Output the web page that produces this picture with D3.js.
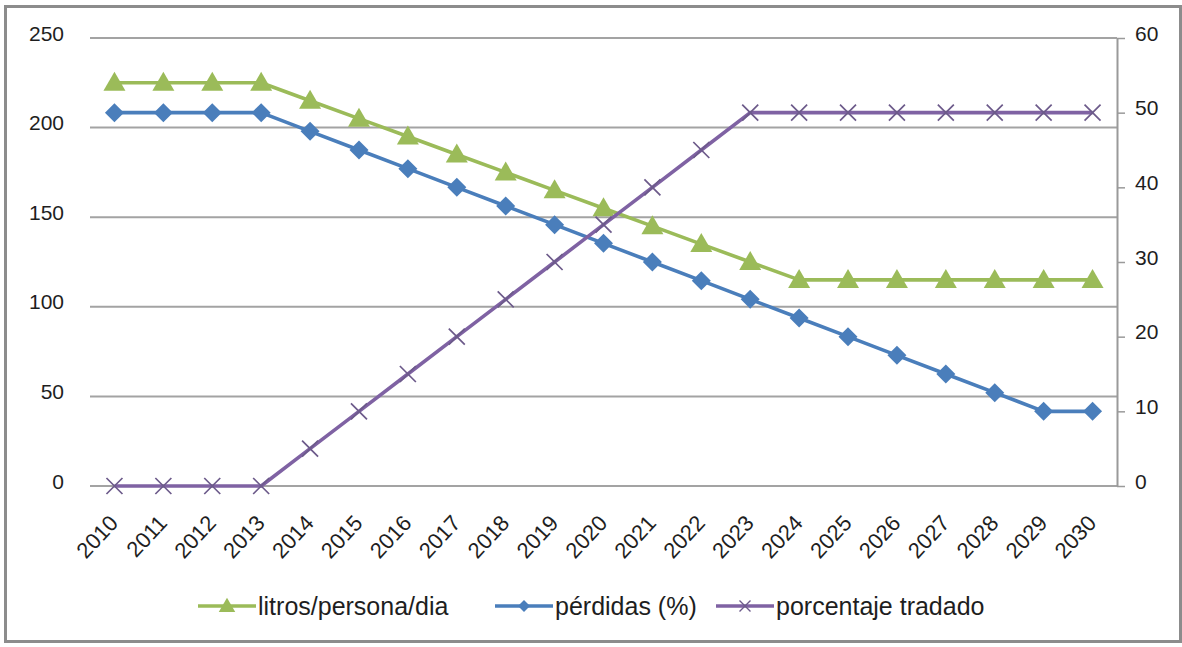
<!DOCTYPE html>
<html>
<head>
<meta charset="utf-8">
<script src="https://cdn.jsdelivr.net/npm/d3@7"></script>
<style>
  html, body { margin: 0; padding: 0; background: #fff; }
  svg { display: block; }
  text { font-family: "Liberation Sans", Arial, sans-serif; fill: #1e1e1e; }
</style>
</head>
<body>
<svg id="chart" width="1182" height="647"></svg>
<script>
// Years on the category axis
const years = ["2010","2011","2012","2013","2014","2015","2016","2017","2018","2019","2020",
               "2021","2022","2023","2024","2025","2026","2027","2028","2029","2030"];

// Litres per person per day (left axis)
const litros = [225,225,225,225,215,205,195,185,175,165,155,145,135,125,115,115,115,115,115,115,115];

// Network losses, percent (right axis)
const perdidas = [50,50,50,50,47.5,45,42.5,40,37.5,35,32.5,30,27.5,25,22.5,20,17.5,15,12.5,10,10];

// Share of treated water, percent (right axis)
const tratado = [0,0,0,0,5,10,15,20,25,30,35,40,45,50,50,50,50,50,50,50,50];

const leftTicks = [0, 50, 100, 150, 200, 250];
const rightTicks = [0, 10, 20, 30, 40, 50, 60];

const seriesNames = ["litros/persona/dia", "pérdidas (%)", "porcentaje tradado"];
const colors = { litros: "#9bbb59", perdidas: "#4a7ebb", tratado: "#7f62a3" };

const svg = d3.select("#chart");

// Outer chart frame
svg.append("rect")
  .attr("x", 5.5).attr("y", 6.5)
  .attr("width", 1175).attr("height", 635)
  .attr("fill", "#fff")
  .attr("stroke", "#8c8c8c")
  .attr("stroke-width", 3);

const plot = { left: 90, right: 1117, top: 38, bottom: 486 };

const x = d3.scaleBand().domain(years).range([plot.left, plot.right]);
const xc = d => x(d) + x.bandwidth() / 2;
const yL = d3.scaleLinear().domain([0, 250]).range([plot.bottom, plot.top]);
const yR = d3.scaleLinear().domain([0, 60]).range([plot.bottom, plot.top]);

// Horizontal gridlines following the left axis
svg.append("g").selectAll("line")
  .data(leftTicks)
  .join("line")
  .attr("x1", plot.left).attr("x2", plot.right)
  .attr("y1", d => yL(d)).attr("y2", d => yL(d))
  .attr("stroke", "#a3a3a3")
  .attr("stroke-width", 2);

// Left axis labels (no axis line)
const leftAxis = d3.axisLeft(yL).tickValues(leftTicks).tickSize(0).tickPadding(26);
const gL = svg.append("g").attr("transform", `translate(${plot.left},0)`).call(leftAxis);
gL.select(".domain").remove();
gL.selectAll("text").style("font-size", "21px").attr("dy", "0.1em")
  .style("font-family", "'Liberation Sans', Arial, sans-serif").attr("fill", "#1e1e1e");

// Right axis with outward ticks
const rightAxis = d3.axisRight(yR).tickValues(rightTicks).tickSizeInner(8).tickSizeOuter(0).tickPadding(10);
const gR = svg.append("g").attr("transform", `translate(${plot.right},0)`).call(rightAxis);
gR.select(".domain").attr("stroke", "#9a9a9a").attr("stroke-width", 2);
gR.selectAll(".tick line").attr("stroke", "#9a9a9a").attr("stroke-width", 1.5);
gR.selectAll("text").style("font-size", "21px").attr("dy", "0.1em")
  .style("font-family", "'Liberation Sans', Arial, sans-serif").attr("fill", "#1e1e1e");

// Category axis: rotated year labels
const bottomAxis = d3.axisBottom(x).tickSize(0).tickPadding(0);
const gB = svg.append("g").attr("transform", `translate(0,${plot.bottom})`).call(bottomAxis);
gB.select(".domain").remove();
gB.selectAll("text")
  .style("font-size", "22px")
  .style("font-family", "'Liberation Sans', Arial, sans-serif")
  .attr("fill", "#1e1e1e")
  .attr("text-anchor", "end")
  .attr("dy", 0).attr("y", 0)
  .attr("transform", "translate(5,38) rotate(-47)");

// Marker shapes
const triPath = s => `M0,${-s * 0.55}L${s * 0.55},${s * 0.4}L${-s * 0.55},${s * 0.4}Z`;
const diaPath = s => `M0,${-s / 2}L${s / 2},0L0,${s / 2}L${-s / 2},0Z`;
const xPath = s => `M${-s / 2},${-s / 2}L${s / 2},${s / 2}M${s / 2},${-s / 2}L${-s / 2},${s / 2}`;

function drawSeries(values, yScale, color, marker) {
  const pts = values.map((v, i) => [xc(years[i]), yScale(v)]);
  const g = svg.append("g");
  g.append("path")
    .attr("d", d3.line()(pts))
    .attr("fill", "none")
    .attr("stroke", color)
    .attr("stroke-width", 3.6)
    .attr("stroke-linejoin", "round");
  const m = g.selectAll("path.m").data(pts).join("path")
    .attr("class", "m")
    .attr("transform", d => `translate(${d[0]},${d[1]})`);
  if (marker === "tri") {
    m.attr("d", triPath(20)).attr("fill", color);
  } else if (marker === "dia") {
    m.attr("d", diaPath(19)).attr("fill", color);
  } else {
    m.attr("d", xPath(16)).attr("fill", "none").attr("stroke", "#6c5a8a").attr("stroke-width", 1.7);
  }
}

drawSeries(litros, yL, colors.litros, "tri");
drawSeries(perdidas, yR, colors.perdidas, "dia");
drawSeries(tratado, yR, colors.tratado, "x");

// Legend
const legendY = 606;
const legendItems = [
  { name: seriesNames[0], color: colors.litros, marker: "tri", x0: 198 },
  { name: seriesNames[1], color: colors.perdidas, marker: "dia", x0: 495 },
  { name: seriesNames[2], color: colors.tratado, marker: "x", x0: 716 }
];
const lg = svg.append("g");
legendItems.forEach(it => {
  const g = lg.append("g");
  g.append("line")
    .attr("x1", it.x0).attr("x2", it.x0 + 58)
    .attr("y1", legendY).attr("y2", legendY)
    .attr("stroke", it.color).attr("stroke-width", 3.4);
  const mk = g.append("path").attr("transform", `translate(${it.x0 + 29},${legendY})`);
  if (it.marker === "tri") mk.attr("d", triPath(15)).attr("fill", it.color);
  else if (it.marker === "dia") mk.attr("d", diaPath(12)).attr("fill", it.color);
  else mk.attr("d", xPath(11)).attr("fill", "none").attr("stroke", "#6c5a8a").attr("stroke-width", 1.4);
  g.append("text")
    .attr("x", it.x0 + 60).attr("y", legendY + 9)
    .style("font-size", "25px")
    .text(it.name);
});
</script>
</body>
</html>
